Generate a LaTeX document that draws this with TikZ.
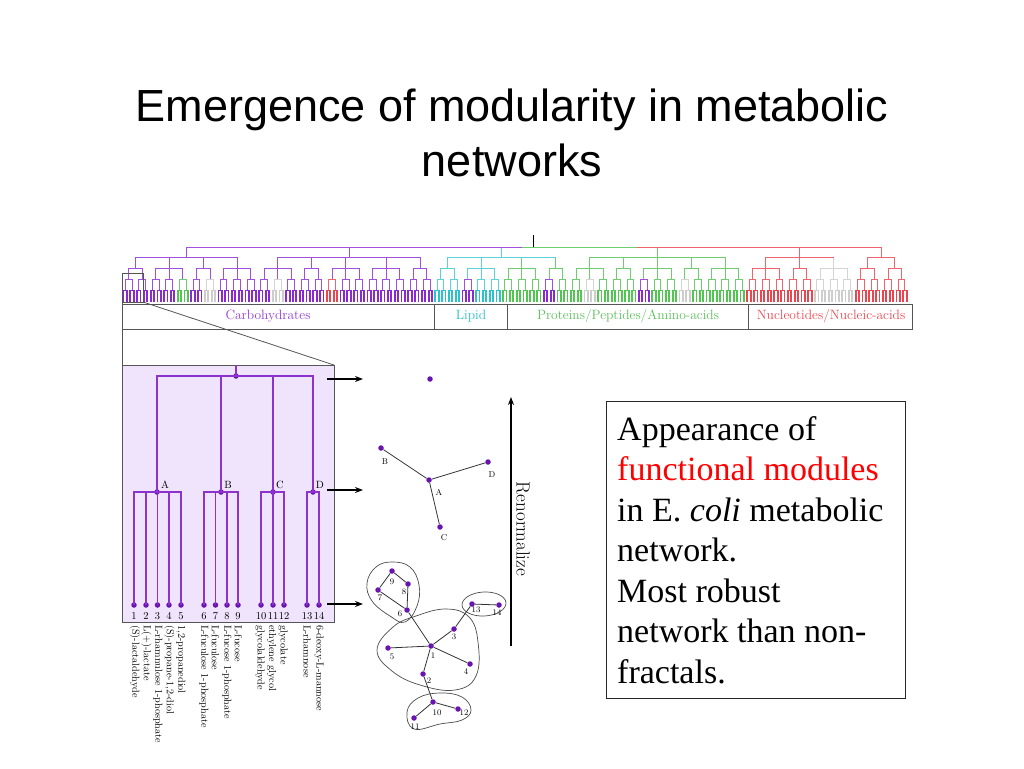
\documentclass[tikz,border=0pt]{standalone}
\usepackage{fontspec}
\newfontfamily\titlefont{Liberation Sans}
\newfontfamily\boxfont{Liberation Serif}
\usetikzlibrary{arrows.meta}
\definecolor{lfP}{RGB}{140,40,210}
\definecolor{lfC}{RGB}{40,195,205}
\definecolor{lfG}{RGB}{80,200,80}
\definecolor{lfR}{RGB}{235,70,80}
\definecolor{lfY}{RGB}{205,205,205}
\definecolor{brP}{RGB}{160,80,220}
\definecolor{brC}{RGB}{90,210,215}
\definecolor{brG}{RGB}{110,205,110}
\definecolor{brR}{RGB}{240,100,110}
\definecolor{brY}{RGB}{212,212,212}
\definecolor{boxfill}{RGB}{239,228,251}
\definecolor{dend}{RGB}{140,50,205}
\definecolor{dotc}{RGB}{105,20,175}
\definecolor{catP}{RGB}{150,60,210}
\definecolor{catC}{RGB}{40,190,200}
\definecolor{catG}{RGB}{90,190,90}
\definecolor{catR}{RGB}{235,70,80}
\definecolor{frame}{RGB}{85,85,85}
\tikzset{
  leaf/.style={line width=1.8pt},
  br/.style={line width=0.85pt},
  dendline/.style={draw=dend, line width=1.1pt},
  dot/.style={circle, fill=dotc, inner sep=0pt, minimum size=5.5pt},
  edge/.style={draw=black!80, line width=0.8pt},
  module/.style={draw=black!70, line width=0.7pt},
  arr/.style={draw=black, line width=1.3pt, -{Stealth[length=8pt,width=6pt]}},
  small/.style={font=\fontsize{8.5}{9}\selectfont},
  lab/.style={font=\fontsize{10.5}{11}\selectfont},
  leaflab/.style={font=\fontsize{10.2}{11}\selectfont, rotate=-90, anchor=west, inner sep=0pt},
  cat/.style={font=\fontsize{13.5}{15}\selectfont},
  boxline/.style={font=\boxfont\fontsize{34}{40}\selectfont, anchor=base west, inner sep=0pt}
}
\begin{document}
\begin{tikzpicture}[x=1pt,y=-1pt]
\useasboundingbox (0,0) rectangle (1024,768);
% title
\node[font=\titlefont\fontsize{45}{55}\selectfont, anchor=base] (title1) at (512,121) {Emergence of modularity in metabolic};
\node[font=\titlefont\fontsize{45}{55}\selectfont, anchor=base] (title2) at (512,176) {networks};

% ===== upper dendrogram =====
\foreach \k/\c in {0/P,1/P,2/P,3/P,4/G,5/P,6/Y,7/P,8/P,9/P,10/P,11/Y,12/P,13/P,14/P,15/R,16/P,17/P,18/P,19/P,20/P,21/P,22/P,
  23/C,24/C,25/P,26/C,27/C,
  28/G,29/G,30/G,31/P,32/G,33/G,34/Y,35/G,36/G,37/G,38/P,39/G,40/G,41/Y,42/G,43/G,44/G,45/G,
  46/R,47/R,48/R,49/R,50/R,51/Y,52/Y,53/Y,54/R,55/R,56/R,57/R} {
  \pgfmathsetmacro\xa{123.5+13.56*\k}
  \foreach \j in {0,1,2,3} \draw[leaf, lf\c] ({\xa+3.39*\j},290) -- ++(0,12);
  \draw[br, lf\c] (\xa,290) -- ++(3.39,0);
  \draw[br, lf\c] ({\xa+6.78},290) -- ++(3.39,0);
  \draw[br, br\c] ({\xa+1.695},290) -- ({\xa+1.695},279) -- ({\xa+8.475},279) -- ({\xa+8.475},290);
}
% level 2
\foreach \a/\b/\c in {0/1/P,2/4/P,5/6/P,7/9/P,10/12/P,13/14/P,15/17/P,18/20/P,21/22/P,23/24/C,25/27/C,
  28/30/G,31/32/G,33/35/G,36/37/G,38/40/G,41/42/G,43/45/G,46/48/R,49/50/R,51/53/Y,54/55/R,56/57/R} {
  \draw[br, br\c] ({128.585+13.56*\a},268) -- ({128.585+13.56*\b},268);
  \foreach \kk in {\a,...,\b} \draw[br, br\c] ({128.585+13.56*\kk},268) -- ++(0,11);
  \draw[br, br\c] ({128.585+13.56*(\a+\b)/2},268) -- ++(0,-11);
}
% level 1
\foreach \a/\b/\c in {0.5/8/P,11/21.5/P,23.5/31.5/C,34/44/G,47/52/R,54.5/56.5/R} {
  \draw[br, br\c] ({128.585+13.56*\a},257) -- ({128.585+13.56*\b},257);
  \draw[br, br\c] ({128.585+13.56*(\a+\b)/2},257) -- ++(0,-10);
}
% top bar
\draw[br, brP] ({128.585+13.56*4.25},247) -- ({128.585+13.56*29},247);
\draw[br, brG] ({128.585+13.56*29},247) -- ({128.585+13.56*37.5},247);
\draw[br, brR] ({128.585+13.56*37.5},247) -- ({128.585+13.56*55.5},247);
\coordinate (roottop) at ({128.585+13.56*29.875},235);
\draw[line width=0.8pt] (roottop) -- ++(0,12);

% category bar
\draw[frame, line width=0.9pt] (122,304) rectangle (912,329);
\foreach \xx in {434,507,748} \draw[frame, line width=0.9pt] (\xx,304) -- (\xx,329);
\node[cat, text=catP] (carb) at (268,316.5) {Carbohydrates};
\node[cat, text=catC] (lip) at (471,316.5) {Lipid};
\node[cat, text=catG] (prot) at (628,316.5) {Proteins/Peptides/Amino-acids};
\node[cat, text=catR] (nuc) at (831,316.5) {Nucleotides/Nucleic-acids};

% magnifier
\draw[frame, line width=0.9pt] (122,273) rectangle (143,302);
\draw[frame, line width=0.8pt] (122,302) -- (122,365);
\draw[frame, line width=0.8pt] (143,302) -- (334,365);

% ===== lower dendrogram =====
\draw[frame, line width=0.9pt, fill=boxfill] (122,365) rectangle (334,622);
\coordinate (rtop) at (236,365);
\node[dot] (r) at (236,376) {};
\node[dot] (A) at (157,492) {};
\node[dot] (B) at (221,492) {};
\node[dot] (C) at (273,492) {};
\node[dot] (D) at (313,492) {};
\draw[dendline] (rtop) -- (r.center);
\foreach \n in {A,B,C,D} \draw[dendline] (\n.center) |- (r.center);
\foreach \i/\x/\p in {1/134/A,2/146/A,3/157.5/A,4/169/A,5/181/A,6/204/B,7/215.5/B,8/227/B,9/238/B,10/261/C,11/273/C,12/284/C,13/307/D,14/319/D} {
  \node[dot] (l\i) at (\x,605) {};
  \draw[dendline] (l\i.center) |- (\p.center);
  \node[lab, inner sep=0pt] (ln\i) at (\x,616) {\i};
}
\node[lab] (Alab) at (165,485) {A};
\node[lab] (Blab) at (228,485) {B};
\node[lab] (Clab) at (280,485) {C};
\node[lab] (Dlab) at (320,485) {D};
\foreach \x/\t [count=\i] in {135/(S)-lactaldehyde,146.5/L(+)-lactate,158/L-rhamnulose 1-phosphate,169.5/{(S)-propane-1,2-diol},181/{1,2-propanediol},
  204/L-fuculose 1-phosphate,215.5/L-fuculose,227/L-fucose 1-phosphate,238.5/L-fucose,
  260/glycolaldehyde,271.5/ethylene glycol,283/glycolate,307/L-rhamnose,319/6-deoxy-L-mannose}
  \node[leaflab] (name\i) at (\x,625) {\t};

% arrows
\coordinate (a1s) at (327,379); \coordinate (a1e) at (363,379);
\coordinate (a2s) at (327,490); \coordinate (a2e) at (363,490);
\coordinate (a3s) at (327,604); \coordinate (a3e) at (363,604);
\draw[arr] (a1s) -- (a1e);
\draw[arr] (a2s) -- (a2e);
\draw[arr] (a3s) -- (a3e);

% renormalize arrow
\coordinate (rb) at (511,646); \coordinate (rt) at (511,397);
\draw[arr] (rb) -- (rt);
\node[rotate=-90, font=\fontsize{19}{21}\selectfont] (ren) at (523,529) {Renormalize};

% ===== networks =====
\node[dot] (N0) at (430,379) {};
\node[dot] (NA) at (429,480) {};
\node[dot] (NB) at (381,448) {};
\node[dot] (NC) at (440,527) {};
\node[dot] (ND) at (488,462) {};
\draw[edge] (NA) -- (NB); \draw[edge] (NA) -- (ND); \draw[edge] (NA) -- (NC);
\node[small] (NAl) at (439,492) {A};
\node[small] (NBl) at (385,462) {B};
\node[small] (NCl) at (444,538) {C};
\node[small] (NDl) at (492,475) {D};

% modules
\draw[module] plot[smooth cycle, tension=0.7] coordinates {(392,562) (410,567) (419,585) (417,606) (405,622) (390,616) (372,601) (367,583) (376,567)};
\draw[module, rotate around={3:(484,604)}] (484,604) ellipse [x radius=22, y radius=12];
\draw[module] plot[smooth cycle, tension=0.7] coordinates {(393,627) (416,616) (446,609) (469,617) (478,642) (476,676) (455,690) (420,685) (392,671) (377,650)};
\draw[module] plot[smooth cycle, tension=0.7] coordinates {(407,712) (418,698) (440,693) (462,697) (471,710) (462,720) (440,724) (414,729)};

\node[dot] (n1) at (431,646) {};
\node[dot] (n2) at (423,674) {};
\node[dot] (n3) at (454,629) {};
\node[dot] (n4) at (470,664) {};
\node[dot] (n5) at (388,648) {};
\node[dot] (n6) at (407,610) {};
\node[dot] (n7) at (378,590) {};
\node[dot] (n8) at (408,584) {};
\node[dot] (n9) at (392,571) {};
\node[dot] (n10) at (433,702) {};
\node[dot] (n11) at (414,718) {};
\node[dot] (n12) at (458,709) {};
\node[dot] (n13) at (472,604) {};
\node[dot] (n14) at (499,605) {};
\foreach \u/\v in {9/8,9/7,7/6,8/6,6/1,1/3,3/13,13/14,1/5,1/4,1/2,2/10,10/11,10/12}
  \draw[edge] (n\u) -- (n\v);
\foreach \i/\x/\y in {1/433/656,2/429/681,3/454/637,4/466/672,5/392/657,6/400/614,7/380/598,8/404/592,9/392/582,10/437/713,11/415/727,12/464/713,13/476/610,14/497/613}
  \node[small, inner sep=0pt] (nl\i) at (\x,\y) {\i};

% ===== text box =====
\draw[black!85, line width=0.9pt] (606,401) rectangle (905,698);
\node[boxline] (t1) at (617,440) {Appearance of};
\node[boxline, text=red] (t2) at (617,480.5) {functional modules};
\node[boxline] (t3) at (617,521) {in E. \textit{coli} metabolic};
\node[boxline] (t4) at (617,561.5) {network.};
\node[boxline] (t5) at (617,602) {Most robust};
\node[boxline] (t6) at (617,642.5) {network than non-};
\node[boxline] (t7) at (617,683) {fractals.};
\end{tikzpicture}
\end{document}
